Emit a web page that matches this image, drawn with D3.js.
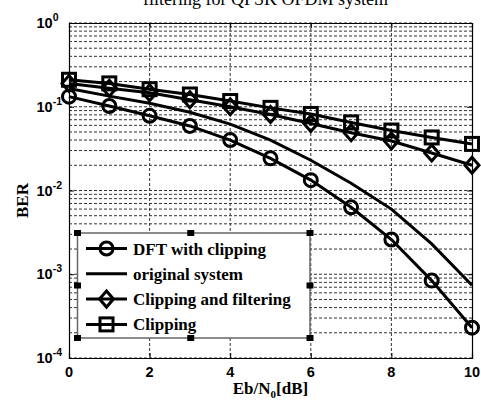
<!DOCTYPE html>
<html>
<head>
<meta charset="utf-8">
<script src="https://cdn.jsdelivr.net/npm/d3@7"></script>
<style>
  body { margin: 0; background: #fff; }
  svg { display: block; }
</style>
</head>
<body>
<div id="chart"></div>
<script>
const ebn0 = [0, 1, 2, 3, 4, 5, 6, 7, 8, 9, 10];
const dftClipping = [0.132, 0.102, 0.078, 0.059, 0.040, 0.0242, 0.0133, 0.0063, 0.0026, 0.00084, 0.00023];
const originalSystem = [0.165, 0.134, 0.11, 0.086, 0.062, 0.040, 0.023, 0.0122, 0.006, 0.0023, 0.00074];
const clipFilter = [0.19, 0.166, 0.147, 0.121, 0.1, 0.081, 0.063, 0.049, 0.039, 0.028, 0.020];
const clipping = [0.21, 0.19, 0.162, 0.14, 0.117, 0.097, 0.082, 0.065, 0.052, 0.043, 0.036];
const xTicks = [0, 2, 4, 6, 8, 10];
const yTickExp = [0, -1, -2, -3, -4];
const legendLabels = ['DFT with clipping', 'original system', 'Clipping and filtering', 'Clipping'];

const W = 481, H = 403;
const margin = { top: 23, right: 9, bottom: 45, left: 69 };
const width = W - margin.left - margin.right;
const height = H - margin.top - margin.bottom;

const svg = d3.select('#chart').append('svg').attr('width', W).attr('height', H);

// title, cut off at the top like the source image
svg.append('text')
    .attr('x', margin.left + width / 2 - 5)
    .attr('y', 5)
    .attr('text-anchor', 'middle')
    .style('font-family', '"Liberation Serif", "Times New Roman", serif')
    .style('font-size', '18px')
    .text('filtering for QPSK OFDM system');

const g = svg.append('g').attr('transform', 'translate(' + margin.left + ',' + margin.top + ')');

const x = d3.scaleLinear().domain([0, 10]).range([0, width]);
const y = d3.scaleLog().domain([1e-4, 1]).range([height, 0]);

// grid
const minor = [];
for (let e = -4; e < 0; e++) {
    for (let k = 1; k <= 9; k++) minor.push(k * Math.pow(10, e));
}
minor.push(1);
g.append('g').selectAll('line').data(minor).join('line')
    .attr('x1', 0).attr('x2', width)
    .attr('y1', d => y(d)).attr('y2', d => y(d))
    .attr('stroke', '#333').attr('stroke-width', 1).attr('stroke-dasharray', '3,2');
g.append('g').selectAll('line').data(xTicks.slice(1, -1)).join('line')
    .attr('x1', d => x(d)).attr('x2', d => x(d))
    .attr('y1', 0).attr('y2', height)
    .attr('stroke', '#333').attr('stroke-width', 1).attr('stroke-dasharray', '3,2');

// axes (ticks inside)
const xAxis = d3.axisBottom(x).tickValues(xTicks).tickSize(-5).tickFormat('');
const yAxis = d3.axisLeft(y).tickValues(yTickExp.map(e => Math.pow(10, e))).tickSize(-5).tickFormat('');
g.append('g').attr('transform', 'translate(0,' + height + ')').call(xAxis);
g.append('g').call(yAxis);
g.append('g').call(d3.axisTop(x).tickValues(xTicks).tickSize(-5).tickFormat(''));
g.append('g').attr('transform', 'translate(' + width + ',0)')
    .call(d3.axisRight(y).tickValues(yTickExp.map(e => Math.pow(10, e))).tickSize(-5).tickFormat(''));
g.selectAll('.domain').attr('stroke', '#000').attr('stroke-width', 1.2);
g.selectAll('.tick line').attr('stroke', '#000');

// tick labels
const sans = '"Liberation Sans", Arial, sans-serif';
g.selectAll('.xlab').data(xTicks).join('text')
    .attr('class', 'xlab')
    .attr('x', d => x(d)).attr('y', height + 19)
    .attr('text-anchor', 'middle')
    .style('font-family', sans).style('font-weight', 'bold').style('font-size', '14.5px')
    .text(d => d);
const ylab = g.selectAll('.ylab').data(yTickExp).join('text')
    .attr('class', 'ylab')
    .attr('x', -32.5).attr('y', d => y(Math.pow(10, d)) + 5)
    .style('font-family', sans).style('font-weight', 'bold').style('font-size', '14.5px');
ylab.append('tspan').text('10');
ylab.append('tspan').attr('dy', -7).style('font-size', '10.5px').text(d => d === 0 ? '0' : d);

// axis labels
const serif = '"Liberation Serif", "Times New Roman", serif';
const xl = svg.append('text')
    .attr('x', margin.left + width / 2).attr('y', 394)
    .attr('text-anchor', 'middle')
    .style('font-family', serif).style('font-weight', 'bold').style('font-size', '17px');
xl.append('tspan').text('Eb/N');
xl.append('tspan').attr('dy', 4).style('font-size', '11px').text('0');
xl.append('tspan').attr('dy', -4).text('[dB]');
svg.append('text')
    .attr('transform', 'translate(28,' + (margin.top + height / 2 + 10) + ') rotate(-90)')
    .attr('text-anchor', 'middle')
    .style('font-family', serif).style('font-weight', 'bold').style('font-size', '17px')
    .text('BER');

// curves
const line = d3.line().x((d, i) => x(ebn0[i])).y(d => y(d));
const series = [
    { data: dftClipping, marker: 'circle' },
    { data: originalSystem, marker: null },
    { data: clipFilter, marker: 'diamond' },
    { data: clipping, marker: 'square' }
];

function drawMarker(sel, type) {
    if (type === 'circle') {
        sel.append('circle').attr('r', 6.5);
    } else if (type === 'square') {
        sel.append('rect').attr('x', -6.5).attr('y', -6.5).attr('width', 13).attr('height', 13);
    } else if (type === 'diamond') {
        sel.append('path').attr('d', 'M0,-8L7,0L0,8L-7,0Z');
    }
    sel.selectAll('*').attr('fill', 'none').attr('stroke', '#000').attr('stroke-width', 3);
}

const plot = g.append('g');
series.forEach(s => {
    plot.append('path')
        .datum(s.data)
        .attr('d', line)
        .attr('fill', 'none').attr('stroke', '#000').attr('stroke-width', 3);
    if (s.marker) {
        s.data.forEach((v, i) => {
            const m = plot.append('g').attr('transform', 'translate(' + x(ebn0[i]) + ',' + y(v) + ')');
            drawMarker(m, s.marker);
        });
    }
});

// legend with selection handles
const lg = svg.append('g');
const lx0 = 77.5, ly0 = 233, lx1 = 310, ly1 = 338;
lg.append('rect').attr('x', lx0).attr('y', ly0).attr('width', lx1 - lx0).attr('height', ly1 - ly0)
    .attr('fill', '#fff').attr('stroke', '#666').attr('stroke-width', 1.5);
const handles = [[lx0, ly0], [(lx0 + lx1) / 2 - 3, ly0], [lx1, ly0], [lx0, (ly0 + ly1) / 2], [lx1, (ly0 + ly1) / 2],
    [lx0, ly1], [(lx0 + lx1) / 2 - 3, ly1], [lx1, ly1]];
lg.selectAll('.handle').data(handles).join('rect')
    .attr('class', 'handle')
    .attr('x', d => d[0] - 3.5).attr('y', d => d[1] - 3)
    .attr('width', 7).attr('height', 6).attr('fill', '#000');

series.forEach((s, i) => {
    const ry = 248.5 + i * 25.3;
    lg.append('line').attr('x1', 86).attr('x2', 127).attr('y1', ry).attr('y2', ry)
        .attr('stroke', '#000').attr('stroke-width', 3);
    if (s.marker) {
        const m = lg.append('g').attr('transform', 'translate(106.5,' + ry + ')');
        drawMarker(m, s.marker);
    }
    lg.append('text').attr('x', 133).attr('y', ry + 6)
        .style('font-family', serif).style('font-weight', 'bold').style('font-size', '17px')
        .text(legendLabels[i]);
});
</script>
</body>
</html>
